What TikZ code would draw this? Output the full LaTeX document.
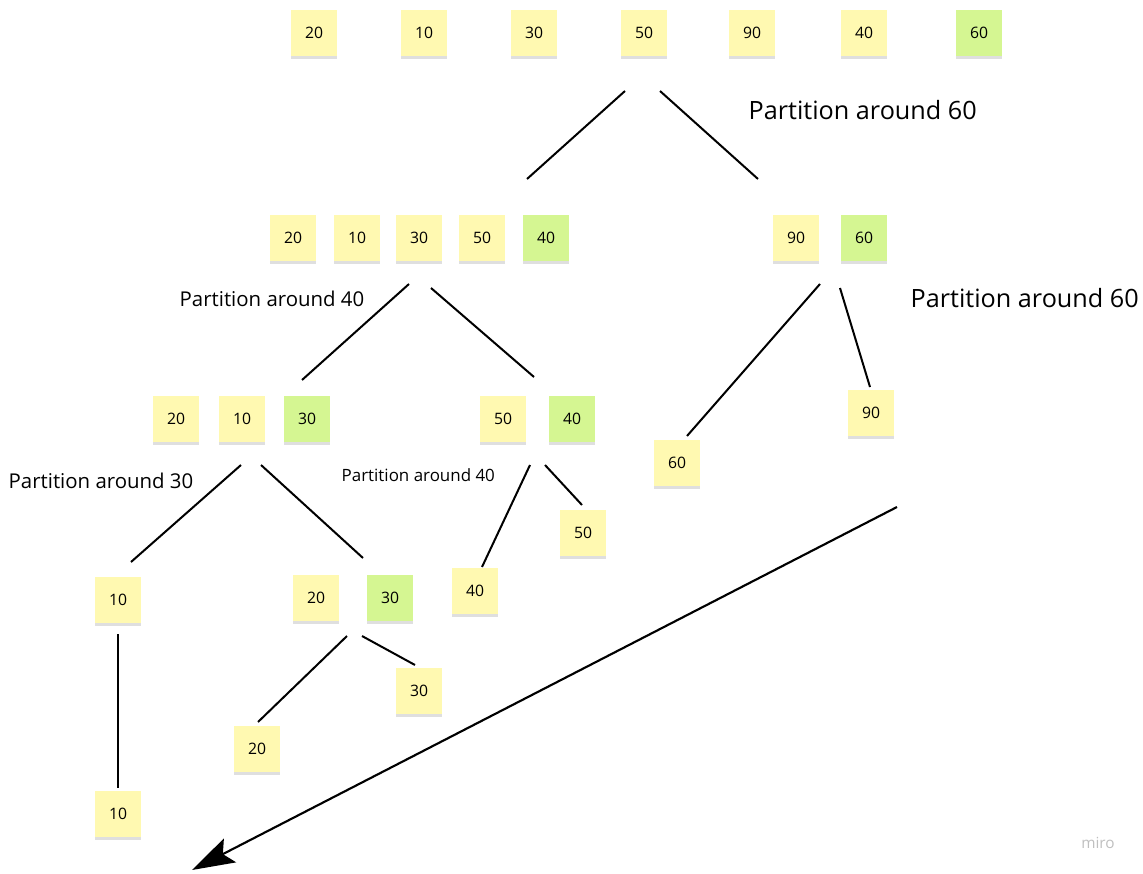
\documentclass[tikz,border=0pt]{standalone}
\usepackage{fontspec}
\setmainfont{Open Sans}
\usetikzlibrary{shadows,arrows.meta}
\definecolor{stickyY}{HTML}{FFF9B1}
\definecolor{stickyG}{HTML}{D5F692}
\tikzset{
  sticky/.style={minimum width=34.5pt, minimum height=34.5pt, inner sep=0pt,
    font=\fontsize{11.8}{13}\selectfont,
    drop shadow={shadow xshift=0pt, shadow yshift=-2.5pt, opacity=0.25}},
  yel/.style={sticky, fill=stickyY},
  grn/.style={sticky, fill=stickyG},
  branch/.style={line width=1.5pt},
  bigcap/.style={font=\fontsize{18.9}{22}\selectfont, anchor=west},
  midcap/.style={font=\fontsize{15.3}{18}\selectfont, anchor=west},
  smallcap/.style={font=\fontsize{12.7}{15}\selectfont, anchor=west}
}
\begin{document}
\begin{tikzpicture}[x=0.75pt, y=-0.75pt]
    \useasboundingbox (0,0) rectangle (1143,874);

    % whole array, pivot 60
    \node[yel] (a20) at (314,33) {20};
    \node[yel] (a10) at (424,33) {10};
    \node[yel] (a30) at (534,33) {30};
    \node[yel] (a50) at (644,33) {50};
    \node[yel] (a90) at (752,33) {90};
    \node[yel] (a40) at (864,33) {40};
    \node[grn] (a60) at (979,33) {60};
    \node[bigcap] (capA) at (744,110) {Partition around 60};

    \coordinate (t1) at (625,91);  \coordinate (t2) at (527,179);
    \coordinate (t3) at (660,91);  \coordinate (t4) at (758,179);
    \draw[branch] (t1) -- (t2);
    \draw[branch] (t3) -- (t4);

    % left part, pivot 40
    \node[yel] (b20) at (293,238) {20};
    \node[yel] (b10) at (357,238) {10};
    \node[yel] (b30) at (419,238) {30};
    \node[yel] (b50) at (482,238) {50};
    \node[grn] (b40) at (546,238) {40};
    \node[midcap] (capB) at (175,299) {Partition around 40};

    % right part, pivot 60
    \node[yel] (c90) at (796,238) {90};
    \node[grn] (c60) at (864,238) {60};
    \node[bigcap] (capC) at (906,298) {Partition around 60};

    \coordinate (u1) at (409,284); \coordinate (u2) at (302,380);
    \coordinate (u3) at (431,288); \coordinate (u4) at (534,377);
    \coordinate (u5) at (820,284); \coordinate (u6) at (687,436);
    \coordinate (u7) at (840,288); \coordinate (u8) at (870,387);
    \draw[branch] (u1) -- (u2);
    \draw[branch] (u3) -- (u4);
    \draw[branch] (u5) -- (u6);
    \draw[branch] (u7) -- (u8);

    % third level
    \node[yel] (d20) at (176,419) {20};
    \node[yel] (d10) at (242,419) {10};
    \node[grn] (d30) at (307,419) {30};
    \node[midcap] (capD) at (4,481) {Partition around 30};

    \node[yel] (e50) at (503,419) {50};
    \node[grn] (e40) at (572,419) {40};
    \node[smallcap] (capE) at (337,475) {Partition around 40};

    \node[yel] (f90) at (871,413) {90};
    \node[yel] (f60) at (677,463) {60};

    \coordinate (v1) at (241,465); \coordinate (v2) at (131,562);
    \coordinate (v3) at (261,465); \coordinate (v4) at (363,558);
    \coordinate (v5) at (530,465); \coordinate (v6) at (482,567);
    \coordinate (v7) at (545,465); \coordinate (v8) at (582,505);
    \draw[branch] (v1) -- (v2);
    \draw[branch] (v3) -- (v4);
    \draw[branch] (v5) -- (v6);
    \draw[branch] (v7) -- (v8);

    % fourth level
    \node[yel] (g10) at (118,600) {10};
    \node[yel] (g20) at (316,598) {20};
    \node[grn] (g30) at (390,598) {30};
    \node[yel] (h40) at (475,591) {40};
    \node[yel] (h50) at (583,533) {50};

    \coordinate (w1) at (118,634); \coordinate (w2) at (118,788);
    \coordinate (w3) at (347,636); \coordinate (w4) at (258,722);
    \coordinate (w5) at (362,636); \coordinate (w6) at (415,665);
    \draw[branch] (w1) -- (w2);
    \draw[branch] (w3) -- (w4);
    \draw[branch] (w5) -- (w6);

    % leaves
    \node[yel] (k30) at (419,691) {30};
    \node[yel] (k20) at (257,749) {20};
    \node[yel] (k10) at (118,814) {10};

    % long arrow down to the sorted result
    \coordinate (s1) at (897,507); \coordinate (s2) at (192,870);
    \draw[line width=1.6pt, -{Stealth[length=32pt, width=20pt, inset=6pt]}] (s1) -- (s2);

    \node[text=black!25, font=\fontsize{11.5}{13}\selectfont] (miro) at (1098,843) {miro};
\end{tikzpicture}
\end{document}
